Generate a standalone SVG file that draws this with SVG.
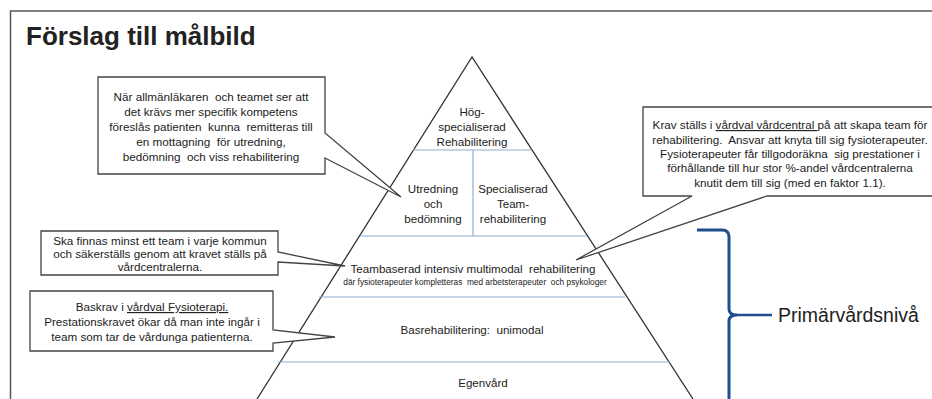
<svg xmlns="http://www.w3.org/2000/svg" width="932" height="399" viewBox="0 0 932 399">
<style>
text{font-family:"Liberation Sans",Arial,sans-serif;fill:#222;white-space:pre}
.t{font-size:11.6px;text-anchor:middle}
.s{font-size:8.3px;text-anchor:middle}
.b{font-size:11.7px;text-anchor:middle}
.box{fill:#fff;stroke:#444;stroke-width:1.3}
.lvl{stroke:#8eaed4;stroke-width:1.2;fill:none}
.u{text-decoration:underline}
</style>
<rect width="932" height="399" fill="#fff"/>
<path d="M10.5,420 V11 H950" fill="none" stroke="#555" stroke-width="1.5"/>
<text x="26" y="45" font-size="26" font-weight="bold" fill="#111">Förslag till målbild</text>

<g id="pyramid">
<path d="M257,399 L472,57 L693,399" fill="none" stroke="#333" stroke-width="1.3"/>
<line class="lvl" x1="413" y1="150" x2="532" y2="150"/>
<line class="lvl" x1="473" y1="150" x2="473" y2="236"/>
<line class="lvl" x1="360" y1="236" x2="587" y2="236"/>
<line class="lvl" x1="319" y1="297" x2="625" y2="297"/>
<line class="lvl" x1="278" y1="362" x2="670" y2="362"/>
</g>

<g id="level-hog">
<text class="t" x="472" y="116">Hög-</text>
<text class="t" x="472" y="131">specialiserad</text>
<text class="t" x="472" y="146">Rehabilitering</text>
</g>
<g id="level-utredning">
<text class="t" x="433" y="193">Utredning</text>
<text class="t" x="433" y="208">och</text>
<text class="t" x="433" y="223">bedömning</text>
</g>
<g id="level-specialiserad">
<text class="t" x="513" y="193">Specialiserad</text>
<text class="t" x="513" y="208">Team-</text>
<text class="t" x="513" y="223">rehabilitering</text>
</g>
<g id="level-teambaserad">
<text class="t" x="473" y="273" font-size="12.6">Teambaserad intensiv multimodal  rehabilitering</text>
<text class="s" x="475" y="285">där fysioterapeuter kompletteras  med arbetsterapeuter  och psykologer</text>
</g>
<g id="level-bas">
<text class="t" x="472" y="334">Basrehabilitering:  unimodal</text>
</g>
<g id="level-egenvard">
<text class="t" x="483" y="387">Egenvård</text>
</g>

<g id="connectors">
<path d="M697,230 H722 Q729,230 729,237 V309 Q729,315 737,315 Q729,315 729,321 V420" fill="none" stroke="#1f4e8c" stroke-width="3"/>
<line x1="737" y1="315" x2="772" y2="315" stroke="#1f4e8c" stroke-width="2.5"/>
</g>
<g id="primarvard">
<text x="778" y="322" font-size="19.5" fill="#111">Primärvårdsnivå</text>
</g>

<g id="callout-1">
<path class="box" d="M98,77 H325 V133 L401,197 L325,158 V174 H98 Z"/>
<text class="b" x="211" y="101">När allmänläkaren  och teamet ser att</text>
<text class="b" x="211" y="116">det krävs mer specifik kompetens</text>
<text class="b" x="211" y="131">föreslås patienten  kunna  remitteras till</text>
<text class="b" x="211" y="146">en mottagning  för utredning,</text>
<text class="b" x="211" y="161">bedömning  och viss rehabilitering</text>
</g>

<g id="callout-2">
<path class="box" d="M643,107 H945 V196 H767 L576,260 L692,196 H643 Z"/>
<text class="b" x="790" y="129">Krav ställs i <tspan class="u">vårdval vårdcentral </tspan>på att skapa team för</text>
<text class="b" x="790" y="144">rehabilitering.  Ansvar att knyta till sig fysioterapeuter.</text>
<text class="b" x="790" y="158">Fysioterapeuter får tillgodoräkna  sig prestationer i</text>
<text class="b" x="790" y="172">förhållande till hur stor %-andel vårdcentralerna</text>
<text class="b" x="790" y="187">knutit dem till sig (med en faktor 1.1).</text>
</g>

<g id="callout-3">
<path class="box" d="M41,231 H278 V252 L345,266 L278,262 V275 H41 Z"/>
<text class="b" x="160" y="245">Ska finnas minst ett team i varje kommun</text>
<text class="b" x="160" y="258">och säkerställs genom att kravet ställs på</text>
<text class="b" x="160" y="271">vårdcentralerna.</text>
</g>

<g id="callout-4">
<path class="box" d="M30,291 H273 V330 L335,337 L273,343 V351 H30 Z"/>
<text class="b" x="152" y="311">Baskrav i <tspan class="u">vårdval Fysioterapi.</tspan></text>
<text class="b" x="152" y="326">Prestationskravet ökar då man inte ingår i</text>
<text class="b" x="152" y="341">team som tar de vårdunga patienterna.</text>
</g>
</svg>
